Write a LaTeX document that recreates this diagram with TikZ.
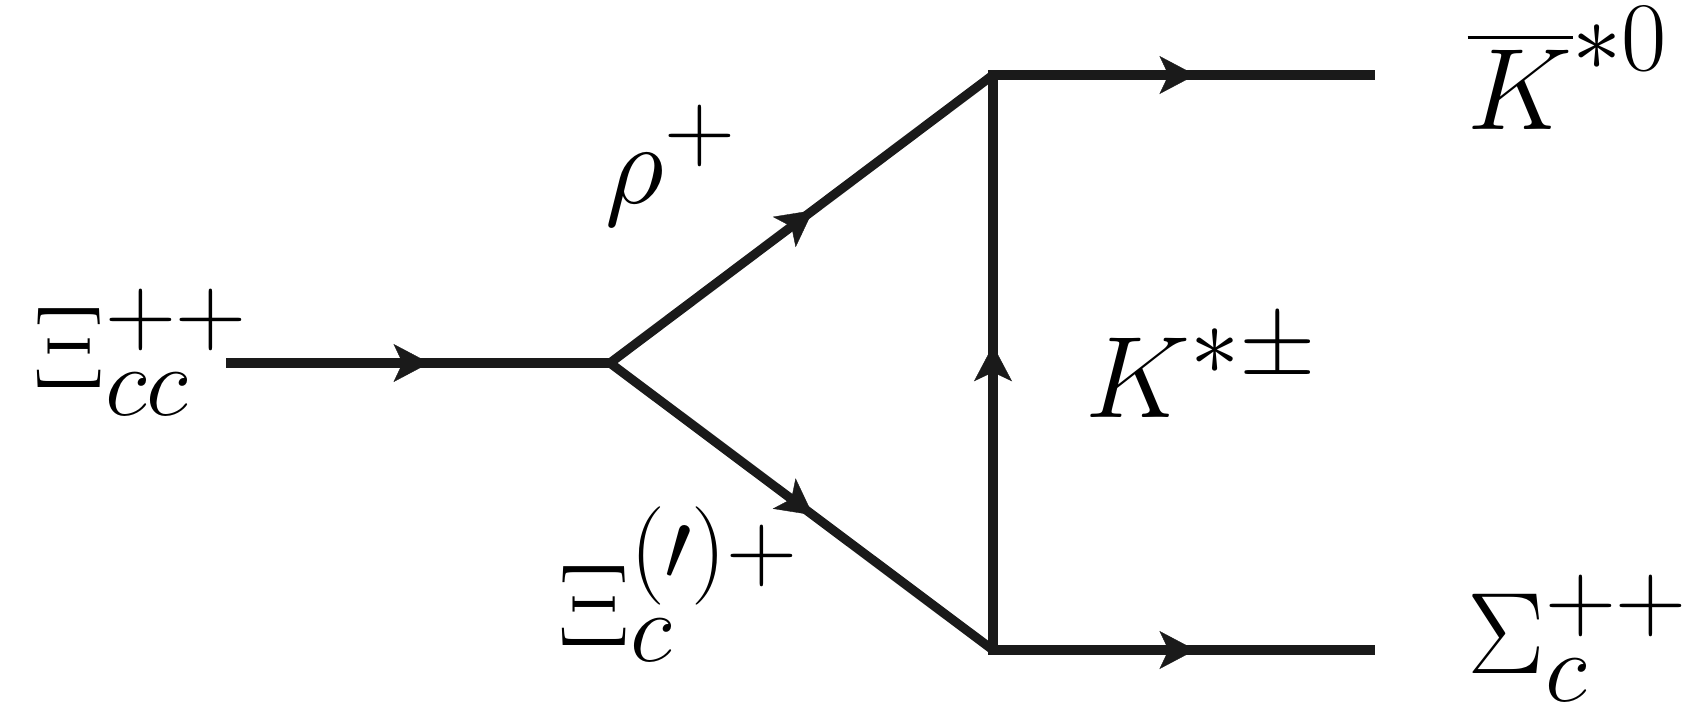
\RequirePackage{fix-cm}
\documentclass[tikz,border=0pt]{standalone}
\usepackage{amsmath}
\usepackage{tikz}
\usetikzlibrary{arrows.meta,decorations.markings}
\DeclareMathSizes{33}{33}{28}{22}
\definecolor{linha}{RGB}{26,26,26}
\tikzset{
  prop/.style={line width=2.6pt, draw=linha, postaction={decorate},
    decoration={markings, mark=at position .53 with {\arrow[linha]{Stealth[length=3.6mm,width=3.8mm,inset=0.9mm,line width=0.1pt]}}}},
  rotulo/.style={inner sep=0pt, anchor=base west, font=\fontsize{33}{40}\selectfont}
}

\begin{document}
\begin{tikzpicture}[scale=1]
\useasboundingbox (0,0) rectangle (17.02,7.26);
% vertices
\coordinate (entrada) at (2.26,3.63);
\coordinate (vtx) at (6.10,3.63);
\coordinate (vtop) at (9.93,6.51);
\coordinate (vbot) at (9.93,0.76);
\coordinate (saidatop) at (13.75,6.51);
\coordinate (saidabot) at (13.75,0.76);
% linha de entrada
\draw[prop] (entrada) -- (vtx);
% triangulo
\draw[prop] (vtx) -- (vtop);
\draw[prop] (vtx) -- (vbot);
\draw[prop,line cap=rect] (vbot) -- (vtop);
% linhas de saida
\draw[prop] (vtop) -- (saidatop);
\draw[prop] (vbot) -- (saidabot);
% rotulos
\node[rotulo] (xicc) at (0.33,3.39) {$\Xi_{cc}^{++}$};
\node[rotulo] (rho) at (6.05,5.23) {$\rho^{+}$};
\node[rotulo] (xic) at (5.58,0.81) {$\Xi_{c}^{(\prime)+}$};
\node[rotulo] (kstar) at (10.85,3.09) {$K^{*\pm}$};
\node[rotulo] (kbar) at (14.67,5.97) {$\overline{K}^{*0}$};
\node[rotulo] (sigc) at (14.67,0.53) {$\Sigma_{c}^{++}$};
\end{tikzpicture}
\end{document}
